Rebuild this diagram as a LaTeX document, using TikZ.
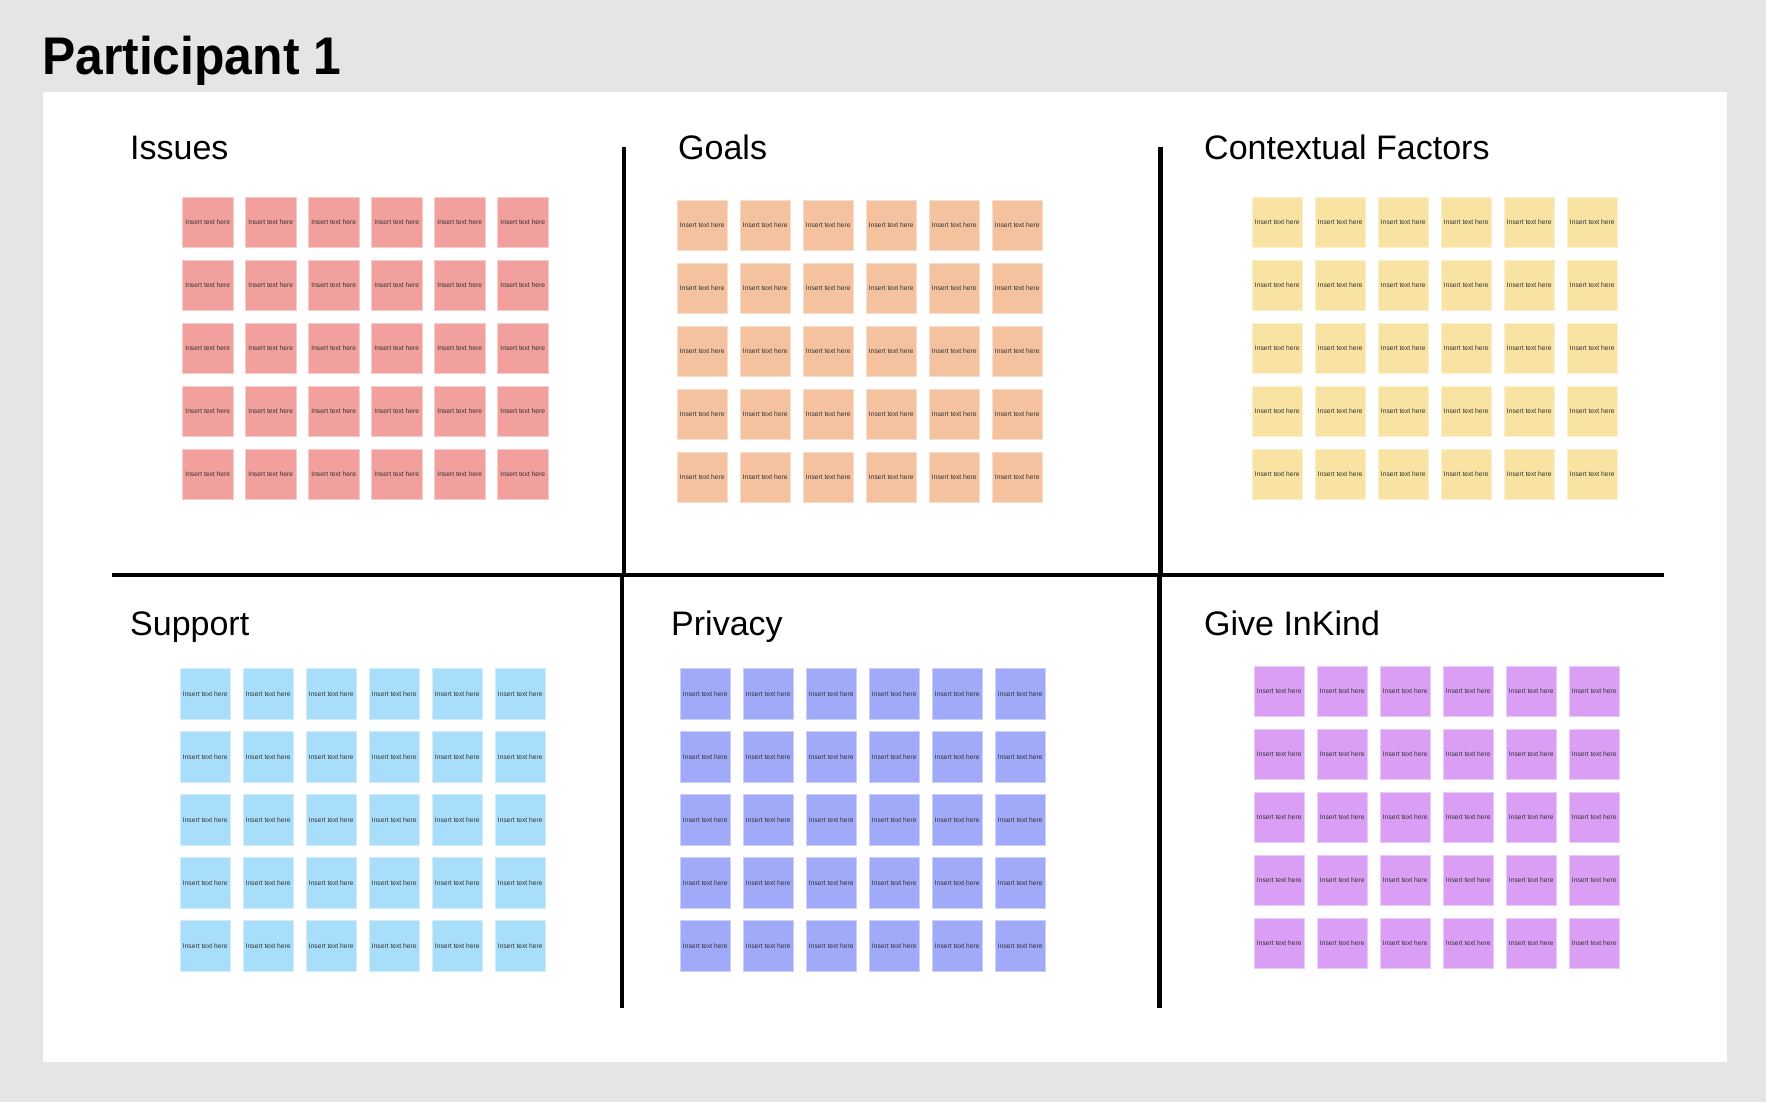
\documentclass[tikz,border=0pt]{standalone}
\usepackage{fontspec}
\setmainfont{Liberation Sans}
\definecolor{bgc}{HTML}{E5E5E5}
\definecolor{issc}{HTML}{F1A09D}
\definecolor{goac}{HTML}{F4C29E}
\definecolor{conc}{HTML}{F8E3A2}
\definecolor{supc}{HTML}{A9DEFA}
\definecolor{pric}{HTML}{A0AAF8}
\definecolor{givc}{HTML}{DA9EF5}
\tikzset{
  sticky/.style={rectangle, minimum width=50.5pt, minimum height=50.5pt, inner sep=0pt,
    line width=0.8pt, font=\fontsize{6.7}{7}\selectfont, text=black!80},
  seclabel/.style={anchor=base west, inner sep=0pt, font=\fontsize{34}{38}\selectfont},
  divider/.style={line width=4.5pt, black},
}
\begin{document}
\begin{tikzpicture}[x=1pt,y=-1pt]
\useasboundingbox (0,0) rectangle (1766,1102);
\fill[bgc] (0,0) rectangle (1766,1102);
\fill[white] (43,92) rectangle (1727,1062);
\node[anchor=base west, inner sep=0pt, font=\fontsize{53}{60}\bfseries\selectfont, xscale=0.94] (title) at (42,75) {Participant 1};
\node[seclabel] (lissues) at (130,160) {Issues};
\node[seclabel] (lgoals) at (678,160) {Goals};
\node[seclabel] (lcontext) at (1204,160) {Contextual Factors};
\node[seclabel] (lsupport) at (130,635) {Support};
\node[seclabel] (lprivacy) at (671,635) {Privacy};
\node[seclabel] (lgive) at (1204,635) {Give InKind};
\foreach \nm/\gx/\gy/\col in {iss/182.5/197/issc, goa/677/200/goac, con/1252/197/conc, sup/180/668.5/supc, pri/680/668.5/pric, giv/1254/666/givc}{
  \foreach \r in {0,...,4}{
    \foreach \c in {0,...,5}{
      \node[sticky, fill=\col, draw=\col!55!white] (\nm-\r-\c) at ({\gx+\c*63+25.25},{\gy+\r*63+25.25}) {Insert text here};
    }
  }
}
\coordinate (hl) at (111.5,575);
\coordinate (hr) at (1663.5,575);
\draw[divider] (hl) -- (hr);
\draw[divider] (624,147) -- (624,575);
\draw[divider] (622,575) -- (622,1008);
\draw[divider] (1160.5,147) -- (1160.5,575);
\draw[divider] (1159.5,575) -- (1159.5,1008);
\end{tikzpicture}
\end{document}
